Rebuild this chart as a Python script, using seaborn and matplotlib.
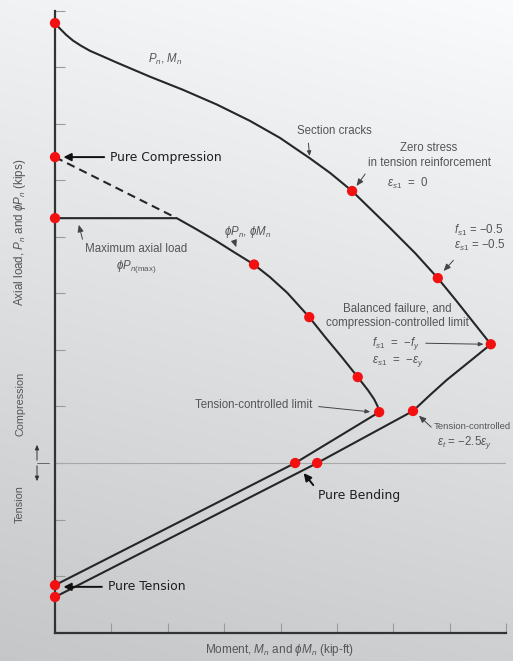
import numpy as np
import matplotlib
matplotlib.use("Agg")
import matplotlib.pyplot as plt
from matplotlib.patches import FancyArrowPatch
from matplotlib.lines import Line2D
import seaborn as sns

sns.set_theme(style="white")
plt.rcParams["font.family"] = ["Liberation Sans", "DejaVu Sans"]
plt.rcParams["mathtext.fontset"] = "custom"
plt.rcParams["mathtext.rm"] = "Liberation Sans"
plt.rcParams["mathtext.it"] = "Liberation Sans:italic"
plt.rcParams["mathtext.bf"] = "Liberation Sans:bold"

# Nominal interaction curve (Pn, Mn): moment, axial load
nominal_m = [0.00, 0.09, 0.20, 0.32, 0.46, 0.62, 0.85, 1.10, 1.69, 2.27, 2.87,
             3.46, 3.99, 4.52, 4.88, 5.27, 5.62, 5.94, 6.39, 6.79, 7.11, 7.42,
             7.73, 7.36, 6.95, 6.65, 6.35, 4.65, 0.00]
nominal_p = [7.78, 7.68, 7.57, 7.47, 7.38, 7.29, 7.19, 7.08, 6.83, 6.60, 6.34,
             6.05, 5.75, 5.39, 5.13, 4.81, 4.47, 4.16, 3.71, 3.27, 2.88, 2.49,
             2.10, 1.80, 1.47, 1.20, 0.92, 0.00, -2.37]

# Design interaction curve (phi Pn, phi Mn)
design_m = [0.00, 2.16, 2.48, 2.84, 3.19, 3.53, 3.81, 4.12, 4.51, 4.79, 5.09,
            5.37, 5.55, 5.66, 5.72, 5.75, 4.26, 0.00]
design_p = [4.33, 4.33, 4.15, 3.94, 3.72, 3.51, 3.29, 3.01, 2.58, 2.23, 1.87,
            1.52, 1.29, 1.13, 1.01, 0.90, 0.00, -2.16]

# Key points on each curve
nominal_pts_m = [0.00, 5.27, 6.79, 7.73, 6.35, 4.65, 0.00]
nominal_pts_p = [7.78, 4.81, 3.27, 2.10, 0.92, 0.00, -2.37]
design_pts_m = [0.00, 0.00, 3.53, 4.51, 5.37, 5.75, 4.26, 0.00]
design_pts_p = [5.41, 4.33, 3.51, 2.58, 1.52, 0.90, 0.00, -2.16]

# Reduction from pure compression to the phi Pn(max) cap
cap_m = [0.00, 2.16]
cap_p = [5.41, 4.33]

x_ticks = list(range(0, 9))
y_ticks = list(range(-3, 9))

W, H = 513, 661
fig = plt.figure(figsize=(W / 100, H / 100), dpi=100)

# soft grey backdrop, lighter toward the top right
bg = fig.add_axes([0, 0, 1, 1], zorder=0)
v = np.linspace(0, 1, 200)[:, None]
h = np.linspace(0, 1, 200)[None, :]
g = 0.945 - 0.17 * v + 0.035 * h
img = np.dstack([g, g + 0.004, g + 0.012])
bg.imshow(np.clip(img, 0, 1), aspect="auto", extent=[0, 1, 0, 1], origin="upper")
bg.set_axis_off()

ax = fig.add_axes([55 / W, 1 - 632.65 / H, 451 / W, 622 / H], zorder=1)
ax.set_facecolor("none")
ax.set_xlim(0, 8)
ax.set_ylim(-3, 8)

ax.axhline(0, color="#a8a8a8", lw=0.8, zorder=1)

line_kw = dict(color="#262626", lw=1.5, sort=False, estimator=None, ax=ax, legend=False)
sns.lineplot(x=nominal_m, y=nominal_p, **line_kw)
sns.lineplot(x=design_m, y=design_p, **line_kw)
sns.lineplot(x=cap_m, y=cap_p, color="#262626", lw=1.5, linestyle=(0, (4, 2.5)),
             sort=False, estimator=None, ax=ax, legend=False)
for ln in ax.lines:
    ln.set_solid_joinstyle("round")

pt_kw = dict(color="#f21010", s=55, edgecolor="none", ax=ax, zorder=5, legend=False)
sns.scatterplot(x=nominal_pts_m, y=nominal_pts_p, **pt_kw)
sns.scatterplot(x=design_pts_m, y=design_pts_p, **pt_kw)
for c in ax.collections:
    c.set_clip_on(False)

# axes styling
sns.despine(ax=ax)
for side in ("left", "bottom"):
    ax.spines[side].set_color("#333333")
    ax.spines[side].set_linewidth(1.6)
ax.set_xticks(x_ticks)
ax.set_yticks(y_ticks)
ax.set_xticklabels([])
ax.set_yticklabels([])
ax.tick_params(axis="both", direction="in", length=7, width=0.8, colors="#9a9a9a",
               left=True, bottom=True)

lab = dict(color="#555555", fontsize=8.3)
thin = dict(arrowstyle="-|>,head_length=0.35,head_width=0.15", color="#444444", lw=0.7)
bold = dict(arrowstyle="-|>,head_length=0.5,head_width=0.25", color="#111111", lw=1.4)

ax.text(1.95, 7.13, r"$P_n$, $M_n$", ha="center", va="center", **lab)
ax.annotate("Section cracks", xy=(4.52, 5.38), xytext=(4.95, 5.87),
            ha="center", va="center", arrowprops=dict(thin, relpos=(0.15, 0)), **lab)
ax.text(6.62, 5.57, "Zero stress", ha="center", va="center", **lab)
ax.text(6.65, 5.31, "in tension reinforcement", ha="center", va="center", **lab)
ax.text(6.26, 4.95, r"$\epsilon_{s1}$  =  0", ha="center", va="center", **lab)
ax.annotate("", xy=(5.32, 4.86), xytext=(5.53, 5.15), arrowprops=thin)

ax.text(7.08, 4.12, r"$f_{s1}$ = −0.5", ha="left", va="center", **lab)
ax.text(7.08, 3.84, r"$\epsilon_{s1}$ = −0.5", ha="left", va="center", **lab)
ax.annotate("", xy=(6.86, 3.36), xytext=(7.10, 3.62), arrowprops=thin)

ax.text(6.07, 2.74, "Balanced failure, and", ha="center", va="center", **lab)
ax.text(6.07, 2.48, "compression-controlled limit", ha="center", va="center", **lab)
ax.annotate(r"$f_{s1}$  =  −$f_y$", xy=(7.65, 2.10), xytext=(5.62, 2.12),
            ha="left", va="center", arrowprops=dict(thin, relpos=(1, 0.5)), **lab)
ax.text(5.62, 1.80, r"$\epsilon_{s1}$  =  −$\epsilon_y$", ha="left", va="center", **lab)

ax.annotate("Tension-controlled limit", xy=(5.64, 0.90), xytext=(3.53, 1.03),
            ha="center", va="center", arrowprops=dict(thin, relpos=(1, 0.4)), **lab)
ax.text(6.72, 0.65, "Tension-controlled", ha="left", va="center",
        color="#555555", fontsize=6.8)
ax.text(6.78, 0.37, r"$\epsilon_t$ = −2.5$\epsilon_y$", ha="left", va="center", **lab)
ax.annotate("", xy=(6.42, 0.87), xytext=(6.71, 0.60), arrowprops=thin)

ax.text(1.44, 3.78, "Maximum axial load", ha="center", va="center", **lab)
ax.text(1.44, 3.47, r"$\phi P_{n(\mathrm{max})}$", ha="center", va="center", **lab)
ax.annotate("", xy=(0.41, 4.26), xytext=(0.50, 3.91), arrowprops=thin)

ax.text(3.41, 4.08, r"$\phi P_n$, $\phi M_n$", ha="center", va="center", **lab)
ax.annotate("", xy=(3.23, 3.77), xytext=(3.16, 3.98), arrowprops=thin)

big = dict(color="#1e1e1e", fontsize=8.9, family="DejaVu Sans")
ax.annotate("Pure Compression", xy=(0.10, 5.41), xytext=(0.98, 5.41),
            ha="left", va="center", arrowprops=dict(bold, relpos=(0, 0.5)), **big)
ax.annotate("Pure Tension", xy=(0.10, -2.19), xytext=(0.94, -2.19),
            ha="left", va="center", arrowprops=dict(bold, relpos=(0, 0.5)), **big)
ax.annotate("Pure Bending", xy=(4.38, -0.14), xytext=(4.67, -0.57),
            ha="left", va="center", arrowprops=dict(bold, relpos=(0, 0.8)), **big)

# axis titles
fig.text(279 / W, 1 - 650 / H, r"Moment, $M_n$ and $\phi M_n$ (kip-ft)",
         ha="center", va="center", color="#555555", fontsize=8.5)
fig.text(20 / W, 1 - 232 / H, r"Axial load, $P_n$ and $\phi P_n$ (kips)",
         rotation=90, ha="center", va="center", color="#555555", fontsize=8.4)
fig.text(20 / W, 1 - 404 / H, "Compression", rotation=90, ha="center", va="center",
         color="#555555", fontsize=7.8)
fig.text(20 / W, 1 - 504 / H, "Tension", rotation=90, ha="center", va="center",
         color="#555555", fontsize=7.8)

# compression / tension direction marker
sm = dict(arrowstyle="-|>,head_length=0.35,head_width=0.15", color="#333333", lw=0.7)


def fpos(x, y):
    return (x / W, 1 - y / H)


fig.add_artist(FancyArrowPatch(fpos(37, 463), fpos(37, 442),
                               transform=fig.transFigure, mutation_scale=8, **sm))
fig.add_artist(FancyArrowPatch(fpos(37, 463), fpos(37, 484),
                               transform=fig.transFigure, mutation_scale=8, **sm))
fig.add_artist(Line2D([37 / W, 49 / W], [1 - 463 / H, 1 - 463 / H],
                      transform=fig.transFigure, color="#555555", lw=0.6))

fig.savefig("out.png", dpi=100)
